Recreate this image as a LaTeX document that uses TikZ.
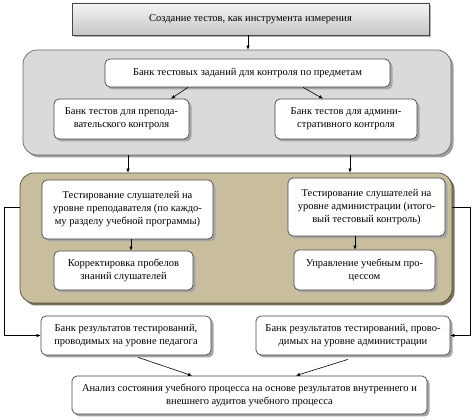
\documentclass[tikz,border=0pt]{standalone}
\usepackage{fontspec}
\setmainfont{Liberation Serif}
\usetikzlibrary{shadows,arrows.meta}
\definecolor{olivefill}{RGB}{200,190,158}
\definecolor{oliveshadow}{RGB}{120,112,88}
\definecolor{contgray}{RGB}{218,218,218}
\definecolor{edgegray}{RGB}{70,70,70}
\tikzset{
  wbox/.style={draw=edgegray, line width=0.7pt, rounded corners=5pt, fill=white,
    align=center, inner sep=2pt, font=\fontsize{10.5}{13}\selectfont,
    drop shadow={shadow xshift=2.5pt, shadow yshift=-2.5pt, fill=gray!70, opacity=1}},
  topbox/.style={draw=edgegray, line width=0.7pt, top color=gray!8, bottom color=gray!45,
    align=center, font=\fontsize{10.5}{13}\selectfont,
    drop shadow={shadow xshift=2pt, shadow yshift=-2pt, fill=gray!60, opacity=1}},
  graycont/.style={draw=gray!80!black, line width=0.7pt, rounded corners=14pt, fill=contgray,
    drop shadow={shadow xshift=2.5pt, shadow yshift=-2.5pt, fill=gray!75, opacity=1}},
  olivecont/.style={draw=oliveshadow!70!black, line width=0.7pt, rounded corners=14pt, fill=olivefill,
    drop shadow={shadow xshift=2.5pt, shadow yshift=-2.5pt, fill=oliveshadow, opacity=1}},
  arr/.style={-{Latex[length=4pt,width=3.5pt]}, line width=0.6pt, black},
  sz/.style 2 args={minimum width=#1pt, minimum height=#2pt},
}
\begin{document}
\begin{tikzpicture}[x=1pt,y=-1pt]
\useasboundingbox (0,0) rectangle (474,419);

\node[topbox, sz={357}{32}] (top) at (250.5,19) {Создание тестов, как инструмента измерения};

\node[graycont, sz={428}{105}] (cont1) at (237,102.5) {};
\node[wbox, sz={285}{28}] (bank) at (247.5,73) {Банк тестовых заданий для контроля по предметам};
\node[wbox, sz={135}{40}] (L1) at (121.5,119) {Банк тестов для препода-\\вательского контроля};
\node[wbox, sz={142}{40}] (R1) at (346,119) {Банк тестов для админи-\\стративного контроля};

\node[olivecont, sz={432}{130}] (cont2) at (236,238) {};
\node[wbox, sz={171}{59}] (L2) at (127.5,209.5) {Тестирование слушателей на\\уровне преподавателя (по каждо-\\му разделу учебной программы)};
\node[wbox, sz={157}{58}] (R2) at (366.5,207) {Тестирование слушателей на\\уровне администрации (итого-\\вый тестовый контроль)};
\node[wbox, sz={139}{39}] (L3) at (123.5,270.5) {Корректировка пробелов\\знаний слушателей};
\node[wbox, sz={141}{40}] (R3) at (364.5,270) {Управление учебным про-\\цессом};

\node[wbox, sz={170}{39}] (L4) at (126,335.5) {Банк результатов тестирований,\\проводимых на уровне педагога};
\node[wbox, sz={194}{39}] (R4) at (353,335.5) {Банк результатов тестирований, прово-\\димых на уровне администрации};
\node[wbox, sz={355}{38}] (B) at (249.5,395) {Анализ состояния учебного процесса на основе результатов внутреннего и\\внешнего аудитов учебного процесса};

\coordinate (lc1) at (4,207);
\coordinate (lc2) at (4,335.5);
\coordinate (rc1) at (470,207);
\coordinate (rc2) at (470,335.5);

\draw[arr] ([xshift=-2.5pt]top.south) -- ([xshift=-2.5pt]top.south |- cont1.north);
\draw[arr] ([xshift=-59.5pt]bank.south) -- ([xshift=49.5pt]L1.north);
\draw[arr] ([xshift=55.5pt]bank.south) -- ([xshift=-23pt]R1.north);
\draw[arr] ([xshift=-109pt]cont1.south) -- ([xshift=-109pt]cont1.south |- cont2.north);
\draw[arr] ([xshift=113pt]cont1.south) -- ([xshift=113pt]cont1.south |- cont2.north);
\draw[arr] ([xshift=3.5pt]L2.south) -- ([xshift=3.5pt]L2.south |- L3.north);
\draw[arr] ([xshift=-11.5pt]R2.south) -- ([xshift=-11.5pt]R2.south |- R3.north);
\draw[arr] ([yshift=31pt]cont2.west) -- (lc1) -- (lc2) -- (L4.west);
\draw[arr] ([yshift=31pt]cont2.east) -- (rc1) -- (rc2) -- (R4.east);
\draw[arr] ([xshift=12pt,yshift=-2pt]L4.south) -- ([xshift=-57.5pt]B.north);
\draw[arr] ([xshift=-5pt,yshift=-4pt]R4.south) -- ([xshift=46.5pt]B.north);
\end{tikzpicture}
\end{document}
